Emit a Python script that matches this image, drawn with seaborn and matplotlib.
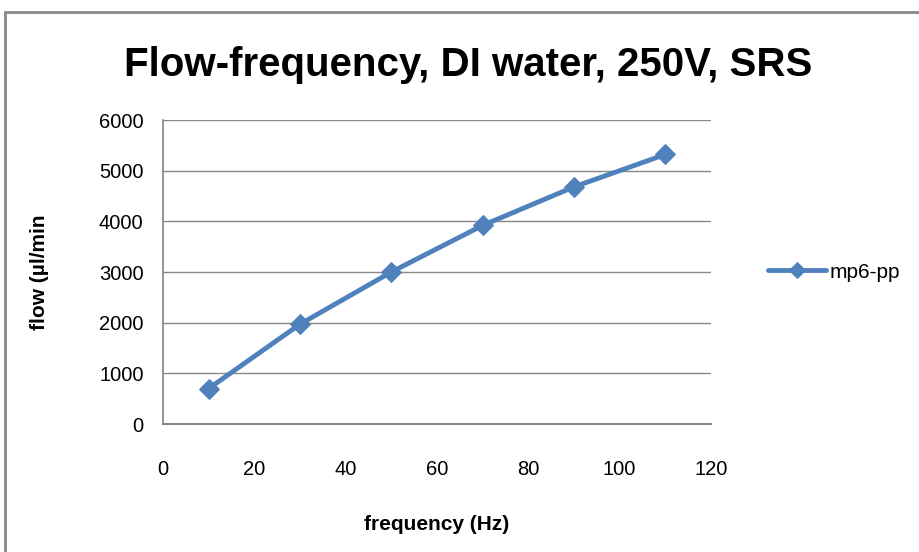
import matplotlib
matplotlib.use("Agg")
import matplotlib.pyplot as plt
import matplotlib.patches as mpatches
import seaborn as sns
import pandas as pd

frequency = [10, 30, 50, 70, 90, 110]
flow = [700, 1970, 3000, 3920, 4680, 5320]
series_name = "mp6-pp"
x_ticks = [0, 20, 40, 60, 80, 100, 120]
y_ticks = [0, 1000, 2000, 3000, 4000, 5000, 6000]

df = pd.DataFrame({"frequency": frequency, "flow": flow, "series": series_name})

sns.set_theme(style="white")
fam = ["Liberation Sans", "DejaVu Sans"]
plt.rcParams["font.family"] = fam
plt.rcParams["text.color"] = "black"
plt.rcParams["axes.labelcolor"] = "black"

fig = plt.figure(figsize=(9.19, 5.52), dpi=100)
fig.patches.append(mpatches.Rectangle((5 / 919, -0.1), 1.2, (552 - 12) / 552 + 0.1,
                                      transform=fig.transFigure, fill=False,
                                      edgecolor="#898989", linewidth=2.0, zorder=0))
ax = fig.add_axes([163 / 919, 1 - 424 / 552, (711 - 163) / 919, (424 - 120) / 552])

color = "#4F81BD"
sns.lineplot(data=df, x="frequency", y="flow", hue="series", palette=[color],
             marker="D", markersize=10, linewidth=3.5, markeredgecolor=color,
             ax=ax)

ax.set_xlim(0, 120)
ax.set_ylim(0, 6000)
ax.set_xticks(x_ticks)
ax.set_yticks(y_ticks)
ax.tick_params(axis="both", labelsize=14.5, length=0, colors="black")
ax.tick_params(axis="x", pad=26)
ax.tick_params(axis="y", pad=14)
ax.yaxis.grid(True, color="#888888", linewidth=1.0)
ax.xaxis.grid(False)
for s in ["top", "right"]:
    ax.spines[s].set_visible(False)
ax.spines["left"].set_color("#888888")
ax.spines["bottom"].set_color("#888888")
ax.spines["bottom"].set_linewidth(1.5)

ax.set_xlabel("frequency (Hz)", fontsize=15, fontweight="bold", labelpad=26)
ax.set_ylabel("flow (µl/min", fontsize=15, fontweight="bold", labelpad=36)

fig.suptitle("Flow-frequency, DI water, 250V, SRS", x=468 / 919, y=1 - 65 / 552,
             va="center", fontsize=29, fontweight="bold", color="black")

leg = ax.legend(loc="center left", bbox_to_anchor=(1.07, 0.5), frameon=False,
                handlelength=2.8, handletextpad=0.15, markerscale=0.8,
                prop={"family": fam, "size": 15})
for t in leg.get_texts():
    t.set_color("black")

fig.savefig("out.png", dpi=100)
